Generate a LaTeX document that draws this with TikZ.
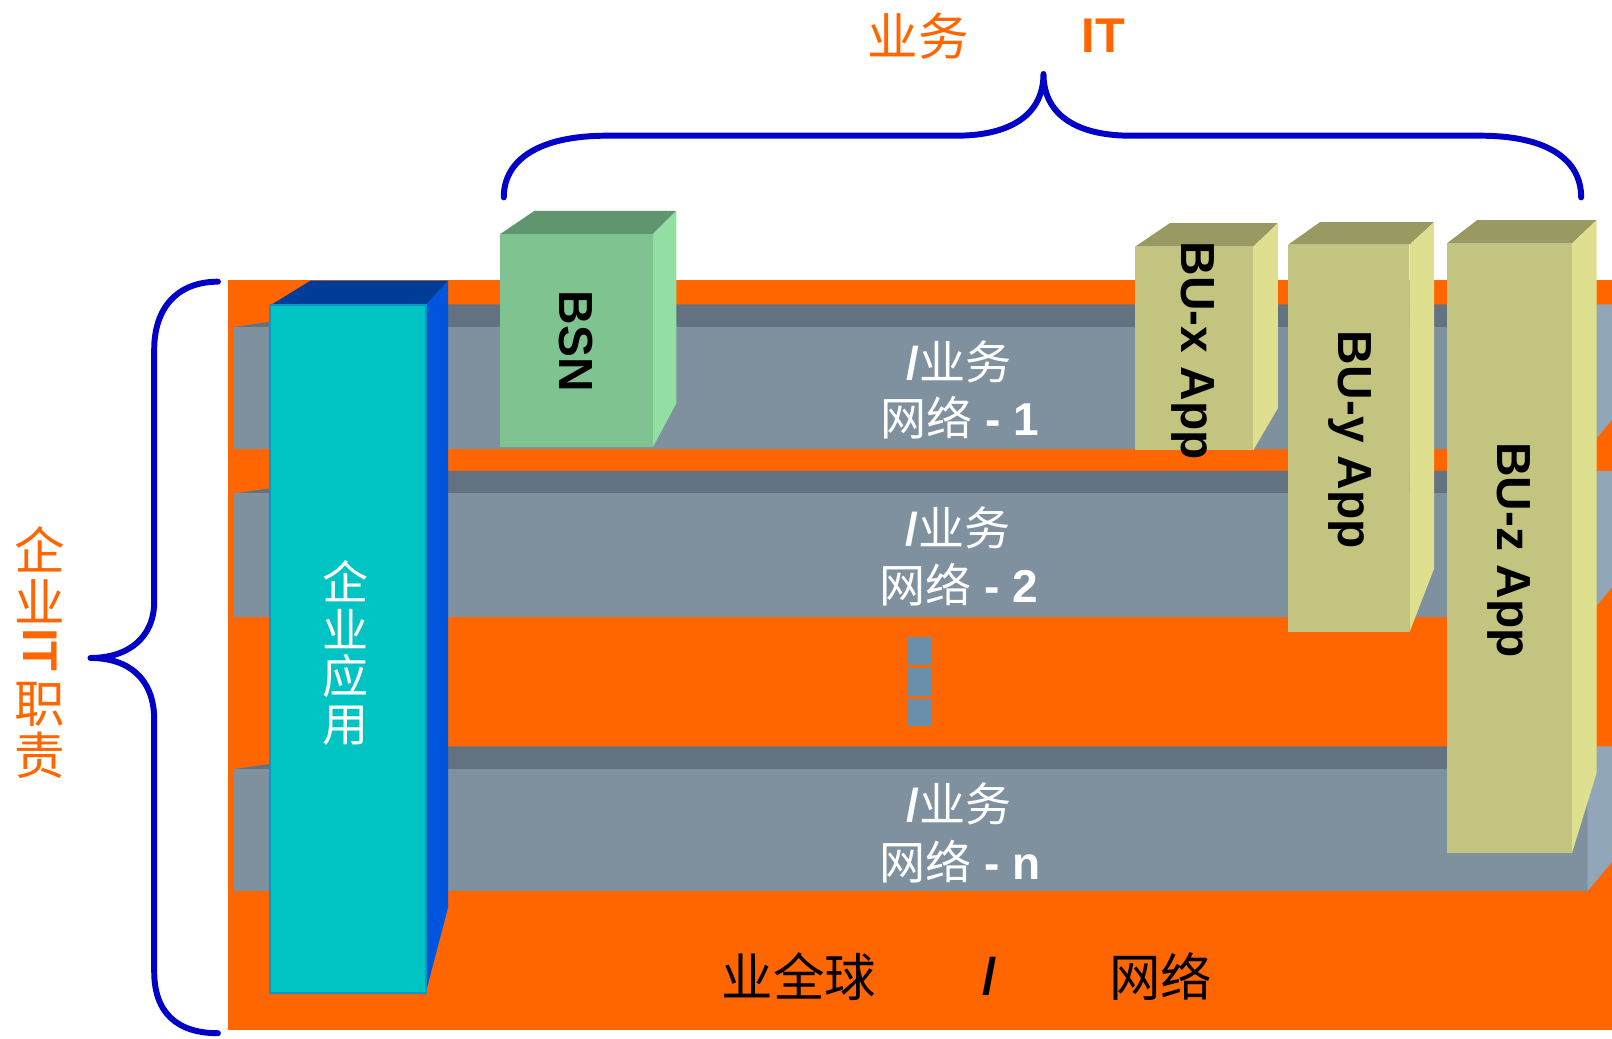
\documentclass[tikz,border=0pt]{standalone}
\usepackage{fontspec}
\setmainfont{Liberation Sans}
\newfontfamily\cjk{Noto Sans CJK SC}
\newcommand\zh[1]{{\cjk #1}}
\definecolor{org}{HTML}{FF6600}
\definecolor{brc}{HTML}{0000C8}
\definecolor{gfront}{HTML}{7F919E}
\definecolor{gtop}{HTML}{637280}
\definecolor{gside}{HTML}{91A6B8}
\definecolor{cfront}{HTML}{00C4C4}
\definecolor{ctop}{HTML}{003D99}
\definecolor{cside}{HTML}{0055DD}
\definecolor{cline}{HTML}{0A96C8}
\definecolor{nfront}{HTML}{7FC391}
\definecolor{ntop}{HTML}{5F9670}
\definecolor{nside}{HTML}{93DEA2}
\definecolor{ofront}{HTML}{C3C47F}
\definecolor{otop}{HTML}{999962}
\definecolor{oside}{HTML}{DFE08F}
\definecolor{sq}{HTML}{6A8FAA}
\newcommand\layerbar[2]{%
  \fill[gtop] (228,#1) -- (382,#1-22) -- (1553,#1-22) -- (1544,#1) -- cycle;
  \fill[gfront] (228,#1) rectangle (1544,#2);
  \fill[gside] (1544,#1) -- (1553,#1-22) -- (1590,#1-22) -- (1590,#2-55) -- (1544,#2) -- cycle;
}
\tikzset{
  brace/.style={draw=brc,line width=3.3pt,line cap=round,line join=round},
  wtext/.style={text=white,inner sep=0,font=\fontsize{25.5}{30}\selectfont},
  btext/.style={text=black,inner sep=0,font=\fontsize{28.5}{32}\selectfont},
  otext/.style={text=org,inner sep=0,font=\fontsize{28}{32}\selectfont},
  vtext/.style={text=black,inner sep=0,rotate=-90,font=\fontsize{26.5}{30}\selectfont\bfseries},
  sqbox/.style={fill=sq,draw=none}
}
\begin{document}
\begin{tikzpicture}[x=0.02cm,y=-0.02cm]
\useasboundingbox (0,0) rectangle (1568,1010);
\begin{scope}
\clip (0,0) rectangle (1568,1010);
\fill[org] (222,272) rectangle (1590,1002);
\layerbar{318}{437}
\layerbar{480}{600}
\layerbar{748}{867}
% squares
\fill[sqbox] (882,620) rectangle (907,647);
\fill[sqbox] (882,650) rectangle (907,677);
\fill[sqbox] (882,680) rectangle (907,706);
% enterprise app box
\fill[ctop] (263,297) -- (302,273) -- (436,273) -- (414,297) -- cycle;
\fill[cside] (414,297) -- (436,273) -- (436,882) -- (414,966) -- cycle;
\fill[cfront,draw=cline,line width=1pt] (263,297) rectangle (414,966);
% BSN
\fill[ntop] (486,228) -- (520,205) -- (658,205) -- (635,228) -- cycle;
\fill[nside] (635,228) -- (658,205) -- (658,392) -- (635,435) -- cycle;
\fill[nfront] (486,228) rectangle (635,435);
% BU-x
\fill[otop] (1104,240) -- (1138,217) -- (1243,217) -- (1219,240) -- cycle;
\fill[oside] (1219,240) -- (1243,217) -- (1243,397) -- (1219,438) -- cycle;
\fill[ofront] (1104,240) rectangle (1219,438);
% BU-y
\fill[otop] (1253,238) -- (1284,216) -- (1395,216) -- (1371,238) -- cycle;
\fill[oside] (1371,238) -- (1395,216) -- (1395,553) -- (1371,615) -- cycle;
\fill[ofront] (1253,238) rectangle (1371,615);
% BU-z
\fill[otop] (1407,237) -- (1437,214) -- (1553,214) -- (1529,237) -- cycle;
\fill[oside] (1529,237) -- (1553,214) -- (1553,752) -- (1529,830) -- cycle;
\fill[ofront] (1407,237) rectangle (1529,830);
\end{scope}
% braces
\draw[brace] (490,192) .. controls (490,155) and (525,132) .. (590,132) -- (930,132)
  .. controls (985,132) and (1015,110) .. (1015,72)
  .. controls (1015,110) and (1045,132) .. (1100,132) -- (1440,132)
  .. controls (1505,132) and (1538,155) .. (1538,192);
\draw[brace] (212,274) .. controls (172,274) and (150,300) .. (150,340) -- (150,585)
  .. controls (150,620) and (125,640) .. (88,640)
  .. controls (125,640) and (150,660) .. (150,700) -- (150,945)
  .. controls (150,985) and (172,1005) .. (212,1005);
% top labels
\node[otext] (tbiz) at (893,35) {\zh{业务}};
\node[otext,font=\fontsize{27}{32}\selectfont\bfseries] (tit) at (1073,35) {IT};
% left labels
\node[otext] (l1) at (39,534) {\zh{企}};
\node[otext] (l2) at (39,585) {\zh{业}};
\node[otext,rotate=-90,font=\fontsize{27}{32}\selectfont\bfseries] (l3) at (39,632) {IT};
\node[otext] (l4) at (39,685) {\zh{职}};
\node[otext] (l5) at (39,735) {\zh{责}};
% enterprise app
\node[wtext] (e1) at (336,565) {\zh{企}};
\node[wtext] (e2) at (336,612) {\zh{业}};
\node[wtext] (e3) at (336,658) {\zh{应}};
\node[wtext] (e4) at (336,706) {\zh{用}};
% boxes text
\node[vtext] (bsn) at (560,332) {BSN};
\node[vtext] (bux) at (1160,341) {BU-x App};
\node[vtext] (buy) at (1313,428) {BU-y App};
\node[vtext] (buz) at (1468,535) {BU-z App};
% layer texts
\node[wtext] (a1) at (933,352) {\textbf{/}\zh{业务}};
\node[wtext] (b1) at (934,406) {\zh{网络}\textbf{ - 1}};
\node[wtext] (a2) at (932,514) {\textbf{/}\zh{业务}};
\node[wtext] (b2) at (933,569) {\zh{网络}\textbf{ - 2}};
\node[wtext] (a3) at (933,782) {\textbf{/}\zh{业务}};
\node[wtext] (b3) at (934,838) {\zh{网络}\textbf{ - n}};
% bottom text
\node[btext] (g1) at (777,950) {\zh{业全球}};
\node[btext,font=\fontsize{28.5}{32}\selectfont\bfseries] (g2) at (963,950) {/};
\node[btext] (g3) at (1129,950) {\zh{网络}};
\end{tikzpicture}
\end{document}
